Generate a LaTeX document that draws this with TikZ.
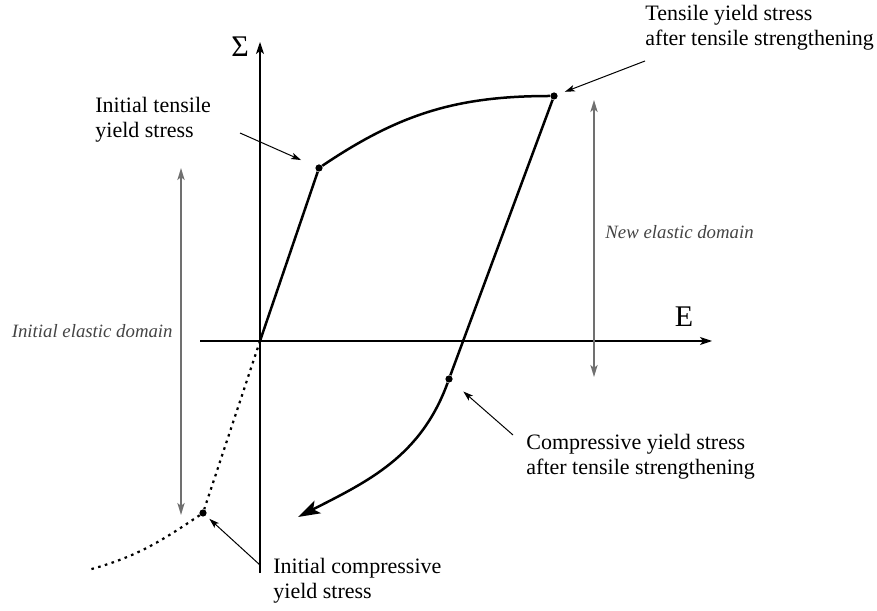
\documentclass[tikz,border=0pt]{standalone}
\usepackage{fontspec}
\setmainfont{Liberation Serif}
\usetikzlibrary{arrows.meta,positioning,calc}
\definecolor{domaingray}{RGB}{112,112,112}
\definecolor{labelgray}{RGB}{68,68,68}

\begin{document}
\begin{tikzpicture}[
    x=0.5pt,
    y=0.5pt,
    font=\fontsize{11}{12.5}\selectfont,
    axis/.style={line width=0.6pt, -{Stealth[length=6pt,width=4pt,inset=1.5pt]}},
    curve/.style={line width=1.25pt},
    softening/.style={line width=1.1pt, dash pattern=on 1.3pt off 2.2pt},
    domainarrow/.style={line width=0.9pt, draw=domaingray,
        {Stealth[length=6pt,width=3.6pt,inset=1.5pt]}-{Stealth[length=6pt,width=3.6pt,inset=1.5pt]}},
    note/.style={line width=0.5pt, -{Stealth[length=5pt,width=3.2pt,inset=1.2pt]}},
    yieldpt/.style={circle, fill, inner sep=0pt, minimum size=3.6pt},
    callout/.style={align=left, anchor=west, inner sep=0pt},
    domainlbl/.style={font=\fontsize{9.4}{11}\selectfont\itshape, text=labelgray, inner sep=0pt}
]
    \useasboundingbox (0,0) rectangle (877,610);

    % Axes
    \coordinate (O) at (260,269);
    \coordinate (Sbot) at (260,37);
    \coordinate (Stop) at (260,568);
    \coordinate (Eleft) at (200,269);
    \coordinate (Eright) at (712,269);
    \draw[axis] (Sbot) -- (Stop);
    \draw[axis] (Eleft) -- (Eright);
    \node[font=\fontsize{15}{15}\selectfont] (sig) at (240,563) {Σ};
    \node[font=\fontsize{15}{15}\selectfont] (eps) at (684,293) {E};

    % Yield points
    \node[yieldpt] (A) at (319,442) {};
    \node[yieldpt] (B) at (554,514) {};
    \node[yieldpt] (C) at (449,231) {};
    \node[yieldpt] (D) at (203,97) {};
    \coordinate (F) at (298,93);
    \coordinate (G) at (88,40);

    % Loading path
    \draw[curve] (O) -- (A);
    \draw[curve] (A) to[out=34,in=180] (B);
    \draw[curve] (B) -- (C);
    \draw[curve, -{Stealth[length=11pt,width=7pt,inset=2.5pt]}] (C) to[out=250,in=27] (F);

    % Initial compression (virgin material)
    \draw[softening] (O) -- (D);
    \draw[softening] (D) to[out=214,in=15] (G);

    % Elastic domains
    \coordinate (newtop) at (594,510);
    \coordinate (newbot) at (594,233);
    \draw[domainarrow] (newtop) -- (newbot);
    \node[domainlbl, anchor=west] (newlbl) at (605,378) {New elastic domain};
    \coordinate (initop) at (181,442);
    \coordinate (inibot) at (181,95);
    \draw[domainarrow] (initop) -- (inibot);
    \node[domainlbl, anchor=east] (inilbl) at (173,279) {Initial elastic domain};

    % Callouts
    \node[callout] (lblA) at (95,490) {Initial tensile\\yield stress};
    \node[callout] (lblB) at (645,582) {Tensile yield stress\\after tensile strengthening};
    \node[callout] (lblC) at (526,153) {Compressive yield stress\\after tensile strengthening};
    \node[callout] (lblD) at (273,29) {Initial compressive\\yield stress};
    \coordinate (fromA) at (240,477);
    \coordinate (fromB) at (645,549);
    \coordinate (fromC) at (513,175);
    \coordinate (fromD) at (260,45);
    \draw[note, shorten >=7.8pt] (fromA) -- (A);
    \draw[note, shorten >=3.8pt] (fromB) -- (B);
    \draw[note, shorten >=7.5pt] (fromC) -- (C);
    \draw[note, shorten >=2.3pt] (fromD) -- (D);
\end{tikzpicture}
\end{document}
